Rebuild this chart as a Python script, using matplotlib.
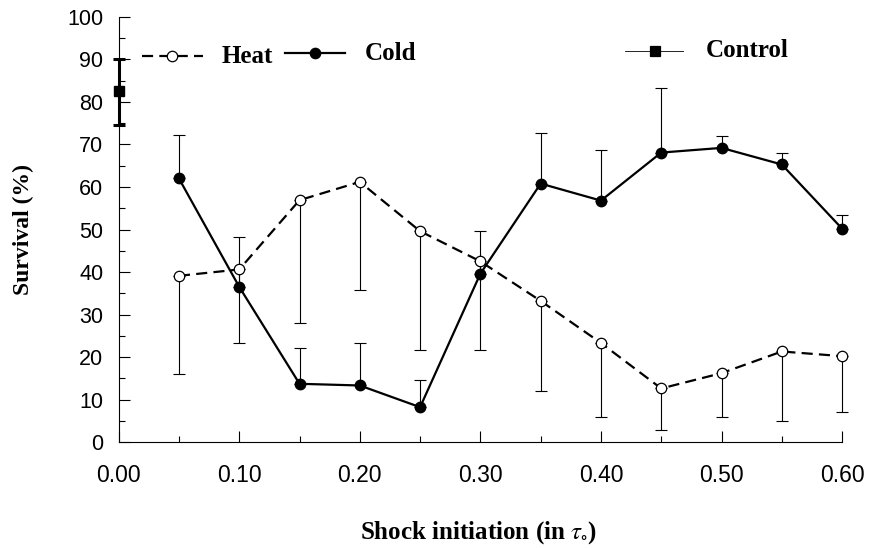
import matplotlib
matplotlib.use("Agg")
import matplotlib.pyplot as plt
from matplotlib.lines import Line2D
from matplotlib.ticker import MultipleLocator, FixedLocator
import numpy as np

# ---- data ----
shock = [0.05, 0.10, 0.15, 0.20, 0.25, 0.30, 0.35, 0.40, 0.45, 0.50, 0.55, 0.60]
heat = [39.1, 40.6, 56.9, 61.2, 49.6, 42.5, 33.2, 23.3, 12.6, 16.2, 21.3, 20.2]
heat_lower = [15.9, 23.3, 28.1, 35.8, 21.7, 21.6, 12.0, 5.9, 2.9, 6.0, 4.9, 7.0]
cold = [62.0, 36.5, 13.7, 13.3, 8.2, 39.6, 60.8, 56.8, 68.1, 69.2, 65.3, 50.2]
cold_upper = [72.2, 48.2, 22.1, 23.4, 14.7, 49.7, 72.8, 68.8, 83.3, 72.1, 68.0, 53.3]
control_x = [0.0]
control = [82.5]
control_lower = [74.7]
control_upper = [90.0]

xticks = [0.00, 0.10, 0.20, 0.30, 0.40, 0.50, 0.60]
xticklabels = ["0.00", "0.10", "0.20", "0.30", "0.40", "0.50", "0.60"]
yticks = [0, 10, 20, 30, 40, 50, 60, 70, 80, 90, 100]

serif = ["Liberation Serif", "DejaVu Serif"]
sans = ["Liberation Sans", "DejaVu Sans"]
plt.rcParams["mathtext.fontset"] = "stix"

fig = plt.figure(figsize=(8.79, 5.48), dpi=100)
ax = fig.add_axes([0.135, 0.1934, 0.823, 0.7756])

heat_a = np.array(heat)
cold_a = np.array(cold)

# error bars (one-sided)
for art in (
    ax.errorbar(shock, heat, yerr=[heat_a - np.array(heat_lower), np.zeros_like(heat_a)],
                fmt="none", ecolor="black", elinewidth=0.8, capsize=4.5, capthick=0.8, zorder=2),
    ax.errorbar(shock, cold, yerr=[np.zeros_like(cold_a), np.array(cold_upper) - cold_a],
                fmt="none", ecolor="black", elinewidth=0.8, capsize=4.5, capthick=0.8, zorder=2),
    ax.errorbar(control_x, control,
                yerr=[np.array(control) - np.array(control_lower),
                      np.array(control_upper) - np.array(control)],
                fmt="none", ecolor="black", elinewidth=2.2, capsize=4.5, capthick=2.2, zorder=4),
):
    for child in art.get_children():
        child.set_clip_on(False)

ax.plot(shock, heat, color="black", lw=1.6, ls=(0, (5, 2.8)), marker="o", ms=7.5,
        mfc="white", mec="black", mew=0.9, zorder=3, clip_on=False)
ax.plot(shock, cold, color="black", lw=1.6, ls="-", marker="o", ms=7.5,
        mfc="black", mec="black", zorder=3, clip_on=False)
ax.plot(control_x, control, ls="none", marker="s", ms=6.5, color="black", zorder=5, clip_on=False)

# legend samples
tr = ax.transAxes
def sample(x0, x1, xm, y, ls, lw, marker, mfc, ms):
    ax.add_line(Line2D([x0, x1], [y, y], transform=tr, color="black", ls=ls, lw=lw, clip_on=False))
    ax.add_line(Line2D([xm], [y], transform=tr, color="black", marker=marker, mfc=mfc, mec="black",
                       ms=ms, mew=0.9, ls="none", clip_on=False))

sample(0.032, 0.117, 0.074, 0.908, (0, (5, 2.8)), 1.6, "o", "white", 7.5)
sample(0.230, 0.313, 0.271, 0.915, "-", 1.6, "o", "black", 7.5)
sample(0.700, 0.780, 0.741, 0.920, "-", 0.6, "s", "black", 7)
ax.text(0.143, 0.908, "Heat", transform=tr, family=serif, weight="bold", fontsize=18, va="center")
ax.text(0.340, 0.915, "Cold", transform=tr, family=serif, weight="bold", fontsize=18, va="center")
ax.text(0.811, 0.920, "Control", transform=tr, family=serif, weight="bold", fontsize=18, va="center")

# axes styling
ax.set_xlim(0, 0.60)
ax.set_ylim(0, 100)
for s in ["top", "right"]:
    ax.spines[s].set_visible(False)
for s in ["left", "bottom"]:
    ax.spines[s].set_linewidth(0.8)

ax.xaxis.set_major_locator(FixedLocator(xticks))
ax.xaxis.set_minor_locator(MultipleLocator(0.05))
ax.set_xticklabels(xticklabels, family=sans, fontsize=16.5)
ax.yaxis.set_major_locator(FixedLocator(yticks))
ax.yaxis.set_minor_locator(MultipleLocator(5))
for lab in ax.get_yticklabels():
    lab.set_family(sans)
    lab.set_fontsize(15.5)
ax.tick_params(axis="both", which="major", direction="in", length=8, width=0.8)
ax.tick_params(axis="both", which="minor", direction="in", length=4, width=0.8)
ax.tick_params(axis="y", which="major", pad=11)
ax.tick_params(axis="x", which="major", pad=16)

ax.set_xlabel(r"Shock initiation (in $\tau_{\circ}$)", family=serif, weight="bold", fontsize=18)
ax.xaxis.label.set_va("center")
ax.xaxis.set_label_coords(0.498, -0.214)
ax.set_ylabel("Survival (%)", family=serif, weight="bold", fontsize=17)
ax.yaxis.label.set_va("center")
ax.yaxis.set_label_coords(-0.132, 0.5)

fig.savefig("out.png", dpi=100)
